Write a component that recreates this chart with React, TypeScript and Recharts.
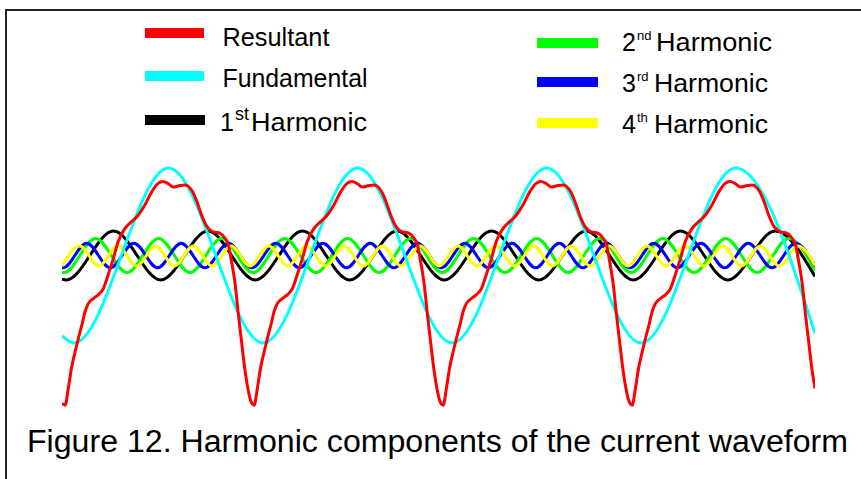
import React from 'react';
import { LineChart, Line, XAxis, YAxis, Legend } from 'recharts';

// x: phase in degrees of the fundamental, y: amplitude (fundamental peak = 1)
const RESULTANT: [number, number][] = [
  [0, -1.69], [6, -1.71], [12, -1.52], [18, -1.29], [25, -1.1], [31, -0.95], [38, -0.79], [44, -0.64], [50, -0.55], [60, -0.49],
  [69, -0.45], [79, -0.375], [88, -0.22], [98, -0.03], [107, 0.16], [120, 0.31], [133, 0.39], [145, 0.46], [158, 0.58], [171, 0.73],
  [183, 0.825], [192, 0.846], [202, 0.823], [212, 0.783], [225, 0.8], [234, 0.806], [242, 0.783], [248, 0.737], [257, 0.615], [266, 0.46],
  [276, 0.33], [288, 0.27], [301, 0.254], [310, 0.2], [317, 0.12], [323, -0.07], [330, -0.34], [336, -0.68], [342, -0.99], [348, -1.29],
  [354, -1.52], [360, -1.67],
  [366, -1.71], [372, -1.52], [378, -1.29], [385, -1.1], [391, -0.95], [398, -0.79], [404, -0.64], [410, -0.55], [420, -0.49],
  [429, -0.45], [439, -0.375], [448, -0.22], [458, -0.03], [467, 0.16], [480, 0.31], [493, 0.39], [505, 0.46], [518, 0.58], [531, 0.73],
  [543, 0.825], [552, 0.846], [562, 0.823], [572, 0.783], [585, 0.8], [594, 0.806], [602, 0.783], [608, 0.737], [617, 0.615], [626, 0.46],
  [636, 0.33], [648, 0.27], [661, 0.254], [670, 0.2], [677, 0.12], [683, -0.07], [690, -0.34], [696, -0.68], [702, -0.99], [708, -1.29],
  [714, -1.52], [720, -1.67],
  [726, -1.71], [732, -1.52], [738, -1.29], [745, -1.1], [751, -0.95], [758, -0.79], [764, -0.64], [770, -0.55], [780, -0.49],
  [789, -0.45], [799, -0.375], [808, -0.22], [818, -0.03], [827, 0.16], [840, 0.31], [853, 0.39], [865, 0.46], [878, 0.58], [891, 0.73],
  [903, 0.825], [912, 0.846], [922, 0.823], [932, 0.783], [945, 0.8], [954, 0.806], [962, 0.783], [968, 0.737], [977, 0.615], [986, 0.46],
  [996, 0.33], [1008, 0.27], [1021, 0.254], [1030, 0.2], [1037, 0.12], [1043, -0.07], [1050, -0.34], [1056, -0.68], [1062, -0.99], [1068, -1.29],
  [1074, -1.52], [1080, -1.67],
  [1086, -1.71], [1092, -1.52], [1098, -1.29], [1105, -1.1], [1111, -0.95], [1118, -0.79], [1124, -0.64], [1130, -0.55], [1140, -0.49],
  [1149, -0.45], [1159, -0.375], [1168, -0.22], [1178, -0.03], [1187, 0.16], [1200, 0.31], [1213, 0.39], [1225, 0.46], [1238, 0.58], [1251, 0.73],
  [1263, 0.825], [1272, 0.846], [1282, 0.823], [1292, 0.783], [1305, 0.8], [1314, 0.806], [1322, 0.783], [1328, 0.737], [1337, 0.615], [1346, 0.46],
  [1356, 0.33], [1368, 0.27], [1381, 0.254], [1390, 0.2], [1397, 0.12], [1403, -0.07], [1410, -0.34], [1416, -0.68], [1422, -0.99], [1428, -1.29],
  [1434, -1.52],
];

const FUNDAMENTAL: [number, number][] = [
  [0, -0.92], [23, -1], [203, 1], [383, -1], [563, 1], [743, -1], [923, 1], [1103, -1], [1283, 1], [1434, -0.89],
];

const HARMONIC_1: [number, number][] = [
  [0, -0.27], [8, -0.28], [98, 0.28], [188, -0.28], [278, 0.28], [368, -0.28], [458, 0.28], [548, -0.28], [638, 0.28],
  [728, -0.28], [818, 0.28], [908, -0.28], [998, 0.28], [1088, -0.28], [1178, 0.28], [1268, -0.28], [1358, 0.28], [1434, -0.24],
];

const HARMONIC_2: [number, number][] = [
  [0, -0.19], [4, -0.195], [64, 0.195], [124, -0.195], [184, 0.195], [244, -0.195], [304, 0.195], [364, -0.195], [424, 0.195],
  [484, -0.195], [544, 0.195], [604, -0.195], [664, 0.195], [724, -0.195], [784, 0.195], [844, -0.195], [904, 0.195],
  [964, -0.195], [1024, 0.195], [1084, -0.195], [1144, 0.195], [1204, -0.195], [1264, 0.195], [1324, -0.195], [1384, 0.195],
  [1434, -0.17],
];

const HARMONIC_3: [number, number][] = [
  [0, -0.139], [2, -0.14], [47, 0.14], [92, -0.14], [137, 0.14], [182, -0.14], [227, 0.14], [272, -0.14], [317, 0.14],
  [362, -0.14], [407, 0.14], [452, -0.14], [497, 0.14], [542, -0.14], [587, 0.14], [632, -0.14], [677, 0.14], [722, -0.14],
  [767, 0.14], [812, -0.14], [857, 0.14], [902, -0.14], [947, 0.14], [992, -0.14], [1037, 0.14], [1082, -0.14], [1127, 0.14],
  [1172, -0.14], [1217, 0.14], [1262, -0.14], [1307, 0.14], [1352, -0.14], [1397, 0.14], [1434, -0.12],
];

const HARMONIC_4: [number, number][] = [
  [0, -0.12], [34, 0.11], [70, -0.12], [106, 0.11], [142, -0.12], [178, 0.11], [214, -0.12], [250, 0.11], [286, -0.12],
  [322, 0.11], [358, -0.12], [394, 0.11], [430, -0.12], [466, 0.11], [502, -0.12], [538, 0.11], [574, -0.12], [610, 0.11],
  [646, -0.12], [682, 0.11], [718, -0.12], [754, 0.11], [790, -0.12], [826, 0.11], [862, -0.12], [898, 0.11], [934, -0.12],
  [970, 0.11], [1006, -0.12], [1042, 0.11], [1078, -0.12], [1114, 0.11], [1150, -0.12], [1186, 0.11], [1222, -0.12],
  [1258, 0.11], [1294, -0.12], [1330, 0.11], [1366, -0.12], [1402, 0.11], [1434, -0.115],
];

const SERIES_NAMES = ['Resultant', 'Fundamental', '1st Harmonic', '2nd Harmonic', '3rd Harmonic', '4th Harmonic'];
const X_DOMAIN: [number, number] = [0, 1434];
const Y_DOMAIN: [number, number] = [-2, 1.2];
const CAPTION = 'Figure 12. Harmonic components of the current waveform';

const COLORS: Record<string, string> = {
  Resultant: '#ff0000',
  Fundamental: '#00ffff',
  '1st Harmonic': '#000000',
  '2nd Harmonic': '#00ff00',
  '3rd Harmonic': '#0000ff',
  '4th Harmonic': '#ffff00',
};

const toPoints = (arr: [number, number][]) => arr.map(([x, y]) => ({ x, y }));

const SERIES: { name: string; data: [number, number][] }[] = [
  { name: SERIES_NAMES[2], data: HARMONIC_1 },
  { name: SERIES_NAMES[3], data: HARMONIC_2 },
  { name: SERIES_NAMES[4], data: HARMONIC_3 },
  { name: SERIES_NAMES[5], data: HARMONIC_4 },
  { name: SERIES_NAMES[1], data: FUNDAMENTAL },
  { name: SERIES_NAMES[0], data: RESULTANT },
];

const FONT = '"Liberation Sans", Arial, Helvetica, sans-serif';

// layout of legend entries (styling only)
const LEGEND_LAYOUT: Record<string, any> = {
  Resultant: { sx: 145, sw: 59, sy: 28, tx: 222.5, base: 45.7, len: 107 },
  Fundamental: { sx: 145, sw: 59, sy: 71, tx: 222.5, base: 87, len: 145 },
  '1st Harmonic': { sx: 145, sw: 60, sy: 115, tx: 220, base: 130.5, supX: 235, supBase: 120, supSize: 18, hx: 251, len: 116 },
  '2nd Harmonic': { sx: 537, sw: 61, sy: 38, tx: 622, base: 51, supX: 637, supBase: 40, supSize: 13, hx: 656, len: 116 },
  '3rd Harmonic': { sx: 537, sw: 61, sy: 77, tx: 622, base: 92, supX: 637, supBase: 81, supSize: 13, hx: 654, len: 114 },
  '4th Harmonic': { sx: 537, sw: 61, sy: 118, tx: 622, base: 133, supX: 637, supBase: 122, supSize: 13, hx: 654, len: 114 },
};

const LegendSvg = () => (
  <svg width={861} height={150} style={{ display: 'block' }}>
    {SERIES_NAMES.map((name) => {
      const L = LEGEND_LAYOUT[name];
      const m = name.match(/^(\d)(st|nd|rd|th) (.*)$/);
      return (
        <g key={name}>
          <rect x={L.sx} y={L.sy} width={L.sw} height={10} fill={COLORS[name]} />
          {m ? (
            <text fontFamily={FONT} fill="#000" fontSize={25}>
              <tspan x={L.tx} y={L.base}>{m[1]}</tspan>
              <tspan x={L.supX} y={L.supBase} fontSize={L.supSize}>{m[2]}</tspan>
              <tspan x={L.hx} y={L.base} textLength={L.len} lengthAdjust="spacingAndGlyphs">{m[3]}</tspan>
            </text>
          ) : (
            <text x={L.tx} y={L.base} fontFamily={FONT} fontSize={25} fill="#000" textLength={L.len} lengthAdjust="spacingAndGlyphs">
              {name}
            </text>
          )}
        </g>
      );
    })}
  </svg>
);

export default function App() {
  return (
    <div style={{ position: 'absolute', left: 0, top: 0, width: 861, height: 479, background: '#fff', overflow: 'hidden' }}>
      <div
        style={{
          position: 'absolute', left: 5, top: 9, width: 860, height: 475,
          borderTop: '2px solid #222', borderLeft: '2px solid #222',
        }}
      />
      <LineChart width={861} height={479} margin={{ top: 150.5, right: 46, bottom: 48.5, left: 62 }}>
        <XAxis dataKey="x" type="number" domain={X_DOMAIN} hide allowDataOverflow />
        <YAxis type="number" domain={Y_DOMAIN} hide allowDataOverflow />
        <Legend
          layout="vertical"
          verticalAlign="middle"
          align="center"
          content={() => <LegendSvg />}
          wrapperStyle={{ position: 'absolute', left: 0, top: 0, width: 861, height: 150 }}
        />
        {SERIES.map((s) => (
          <Line
            key={s.name}
            name={s.name}
            data={toPoints(s.data)}
            dataKey="y"
            type="monotone"
            stroke={COLORS[s.name]}
            strokeWidth={3}
            dot={false}
            activeDot={false}
            isAnimationActive={false}
          />
        ))}
      </LineChart>
      <svg width={861} height={479} style={{ position: 'absolute', left: 0, top: 0, pointerEvents: 'none' }}>
        <text x={27} y={452} fontFamily={FONT} fontSize={31} fill="#000" textLength={821} lengthAdjust="spacingAndGlyphs">
          {CAPTION}
        </text>
      </svg>
    </div>
  );
}
